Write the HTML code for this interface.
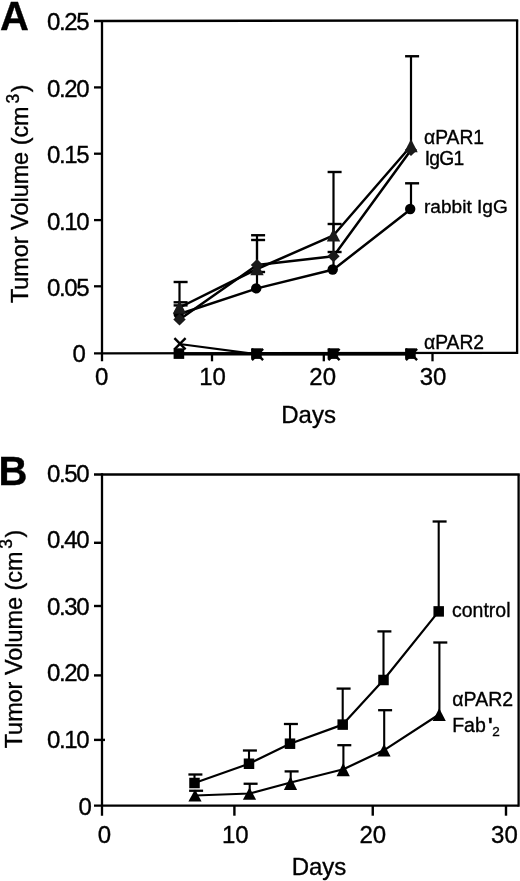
<!DOCTYPE html>
<html><head><meta charset="utf-8"><title>Figure</title>
<style>html,body{margin:0;padding:0;background:#fff}body{width:520px;height:881px;overflow:hidden}svg{display:block}text{font-family:'Liberation Sans', Arial, Helvetica, sans-serif;fill:#000;stroke:#000;stroke-width:0.35px}</style>
</head><body>
<svg width="520" height="881" viewBox="0 0 520 881">
<rect width="520" height="881" fill="#fff"/>
<g id="panelA">
<text x="0" y="30" font-size="40" text-anchor="start" font-weight="bold" >A</text>
<line x1="102" y1="19.9" x2="102" y2="361.3" stroke="#000" stroke-width="2.3"/>
<line x1="94" y1="21" x2="518.2" y2="20.3" stroke="#000" stroke-width="2.3"/>
<line x1="517.1" y1="20.3" x2="517.1" y2="353.90000000000003" stroke="#000" stroke-width="2.3"/>
<line x1="94" y1="353.3" x2="517.1" y2="352.8" stroke="#000" stroke-width="2.3"/>
<text x="88.10000000000001" y="29.6" font-size="24" text-anchor="end" font-weight="normal" letter-spacing="-1.4">0.25</text>
<line x1="94" y1="87.4" x2="102" y2="87.4" stroke="#000" stroke-width="2.3"/>
<text x="88.10000000000001" y="96.8" font-size="24" text-anchor="end" font-weight="normal" letter-spacing="-1.4">0.20</text>
<line x1="94" y1="153.7" x2="102" y2="153.7" stroke="#000" stroke-width="2.3"/>
<text x="88.10000000000001" y="162.8" font-size="24" text-anchor="end" font-weight="normal" letter-spacing="-1.4">0.15</text>
<line x1="94" y1="220.1" x2="102" y2="220.1" stroke="#000" stroke-width="2.3"/>
<text x="88.10000000000001" y="229.8" font-size="24" text-anchor="end" font-weight="normal" letter-spacing="-1.4">0.10</text>
<line x1="94" y1="286.3" x2="102" y2="286.3" stroke="#000" stroke-width="2.3"/>
<text x="88.10000000000001" y="296" font-size="24" text-anchor="end" font-weight="normal" letter-spacing="-1.4">0.05</text>
<text x="84.50000000000001" y="362.1" font-size="24" text-anchor="end" font-weight="normal" letter-spacing="-1.4">0</text>
<text x="101.8" y="385" font-size="24" text-anchor="middle" font-weight="normal" >0</text>
<line x1="212" y1="353.3" x2="212" y2="361.3" stroke="#000" stroke-width="2.3"/>
<text x="212.6" y="385" font-size="24" text-anchor="middle" font-weight="normal" >10</text>
<line x1="323.8" y1="353.3" x2="323.8" y2="361.3" stroke="#000" stroke-width="2.3"/>
<text x="322.7" y="385" font-size="24" text-anchor="middle" font-weight="normal" >20</text>
<line x1="432.5" y1="353.3" x2="432.5" y2="361.3" stroke="#000" stroke-width="2.3"/>
<text x="433.1" y="385" font-size="24" text-anchor="middle" font-weight="normal" >30</text>
<text x="308.6" y="423.3" font-size="24" text-anchor="middle" font-weight="normal" >Days</text>
<text transform="translate(28,303.1) rotate(-90)" font-size="23.4">Tumor Volume (cm<tspan font-size="17.5" dx="2.8" dy="-9.5">3</tspan><tspan dx="1.5" dy="9.5">)</tspan></text>
<line x1="179.5" y1="282" x2="179.5" y2="308" stroke="#000" stroke-width="2.2"/>
<line x1="173.6" y1="282" x2="187.6" y2="282" stroke="#000" stroke-width="2.4000000000000004"/>
<line x1="179.5" y1="302.3" x2="179.5" y2="313" stroke="#000" stroke-width="2.2"/>
<line x1="173.6" y1="302.3" x2="187.6" y2="302.3" stroke="#000" stroke-width="2.4000000000000004"/>
<line x1="179.5" y1="305.4" x2="179.5" y2="319" stroke="#000" stroke-width="2.2"/>
<line x1="173.6" y1="305.4" x2="187.6" y2="305.4" stroke="#000" stroke-width="2.4000000000000004"/>
<line x1="257" y1="235.25" x2="257" y2="270" stroke="#000" stroke-width="2.2"/>
<line x1="251.1" y1="235.25" x2="265.1" y2="235.25" stroke="#000" stroke-width="2.4000000000000004"/>
<line x1="257" y1="240" x2="257" y2="264" stroke="#000" stroke-width="2.2"/>
<line x1="251.1" y1="240" x2="265.1" y2="240" stroke="#000" stroke-width="2.4000000000000004"/>
<line x1="257" y1="272" x2="257" y2="288" stroke="#000" stroke-width="2.2"/>
<line x1="251.1" y1="272" x2="265.1" y2="272" stroke="#000" stroke-width="2.4000000000000004"/>
<line x1="333.5" y1="172" x2="333.5" y2="235" stroke="#000" stroke-width="2.2"/>
<line x1="327.6" y1="172" x2="341.6" y2="172" stroke="#000" stroke-width="2.4000000000000004"/>
<line x1="333.5" y1="224" x2="333.5" y2="256" stroke="#000" stroke-width="2.2"/>
<line x1="327.6" y1="224" x2="341.6" y2="224" stroke="#000" stroke-width="2.4000000000000004"/>
<line x1="333.5" y1="252" x2="333.5" y2="269" stroke="#000" stroke-width="2.2"/>
<line x1="327.6" y1="252" x2="341.6" y2="252" stroke="#000" stroke-width="2.4000000000000004"/>
<line x1="411" y1="56.25" x2="411" y2="146" stroke="#000" stroke-width="2.2"/>
<line x1="405.1" y1="56.25" x2="419.1" y2="56.25" stroke="#000" stroke-width="2.4000000000000004"/>
<line x1="411" y1="183.3" x2="411" y2="209" stroke="#000" stroke-width="2.2"/>
<line x1="405.1" y1="183.3" x2="419.1" y2="183.3" stroke="#000" stroke-width="2.4000000000000004"/>
<polyline points="179.5,354 257,354 333.5,354 411,354" fill="none" stroke="#000" stroke-width="2.8" stroke-linejoin="round"/>
<polyline points="179.5,344 257,354.2 333.5,354.2 411,354.2" fill="none" stroke="#000" stroke-width="2.2" stroke-linejoin="round"/>
<polyline points="179.5,314 257,288.4 333.5,269.5 411,209" fill="none" stroke="#000" stroke-width="2.5" stroke-linejoin="round"/>
<polyline points="179.5,319.5 257,265 333.5,256.25 411,150" fill="none" stroke="#000" stroke-width="2.5" stroke-linejoin="round"/>
<polyline points="179.5,307.5 257,269 333.5,235.3 411,146" fill="none" stroke="#000" stroke-width="2.5" stroke-linejoin="round"/>
<line x1="174.4" y1="338.09999999999997" x2="185.6" y2="349.3" stroke="#000" stroke-width="2.4"/>
<line x1="174.4" y1="349.3" x2="185.6" y2="338.09999999999997" stroke="#000" stroke-width="2.4"/>
<line x1="251.9" y1="348.9" x2="263.1" y2="360.1" stroke="#000" stroke-width="2.4"/>
<line x1="251.9" y1="360.1" x2="263.1" y2="348.9" stroke="#000" stroke-width="2.4"/>
<line x1="328.4" y1="348.9" x2="339.6" y2="360.1" stroke="#000" stroke-width="2.4"/>
<line x1="328.4" y1="360.1" x2="339.6" y2="348.9" stroke="#000" stroke-width="2.4"/>
<line x1="405.9" y1="348.9" x2="417.1" y2="360.1" stroke="#000" stroke-width="2.4"/>
<line x1="405.9" y1="360.1" x2="417.1" y2="348.9" stroke="#000" stroke-width="2.4"/>
<rect x="173.6" y="348.3" width="10.6" height="10.6" fill="#000"/>
<rect x="251.09999999999997" y="348.3" width="10.6" height="10.6" fill="#000"/>
<rect x="327.59999999999997" y="348.3" width="10.6" height="10.6" fill="#000"/>
<rect x="405.09999999999997" y="348.3" width="10.6" height="10.6" fill="#000"/>
<circle cx="178.7" cy="314" r="5.2" fill="#000"/>
<circle cx="256.2" cy="288.4" r="5.2" fill="#000"/>
<circle cx="332.7" cy="269.5" r="5.2" fill="#000"/>
<circle cx="410.2" cy="209" r="5.2" fill="#000"/>
<polygon points="179.5,313.5 185.7,319.5 179.5,325.5 173.3,319.5" fill="#1a1a1a"/>
<polygon points="257,259 263.2,265 257,271 250.8,265" fill="#1a1a1a"/>
<polygon points="333.5,250.25 339.7,256.25 333.5,262.25 327.3,256.25" fill="#1a1a1a"/>
<polygon points="411,144 417.2,150 411,156 404.8,150" fill="#1a1a1a"/>
<polygon points="179.5,300.6 186.2,313.7 172.8,313.7" fill="#1a1a1a"/>
<polygon points="257,262.1 263.7,275.2 250.3,275.2" fill="#1a1a1a"/>
<polygon points="333.5,228.4 340.2,241.5 326.8,241.5" fill="#1a1a1a"/>
<polygon points="411,139.1 417.7,152.2 404.3,152.2" fill="#1a1a1a"/>
<text x="424" y="143.7" font-size="19.3" text-anchor="start" font-weight="normal" >&#945;PAR1</text>
<text x="424.8" y="164.6" font-size="19.3" text-anchor="start" font-weight="normal" letter-spacing="-0.8">IgG1</text>
<text x="424" y="213.4" font-size="19.1" text-anchor="start" font-weight="normal" >rabbit IgG</text>
<text x="424" y="348.7" font-size="19.3" text-anchor="start" font-weight="normal" >&#945;PAR2</text>
</g>
<g id="panelB">
<text x="-1.4" y="485.4" font-size="40" text-anchor="start" font-weight="bold" >B</text>
<line x1="102" y1="473.35" x2="102" y2="815.7" stroke="#000" stroke-width="2.3"/>
<line x1="94" y1="474.5" x2="519.75" y2="474.5" stroke="#000" stroke-width="2.3"/>
<line x1="518.6" y1="474.5" x2="518.6" y2="806.85" stroke="#000" stroke-width="2.3"/>
<line x1="94" y1="805.7" x2="518.6" y2="805.7" stroke="#000" stroke-width="2.3"/>
<text x="88.10000000000001" y="482.4" font-size="24" text-anchor="end" font-weight="normal" letter-spacing="-1.4">0.50</text>
<line x1="94" y1="542.8" x2="102" y2="542.8" stroke="#000" stroke-width="2.4"/>
<text x="88.10000000000001" y="548" font-size="24" text-anchor="end" font-weight="normal" letter-spacing="-1.4">0.40</text>
<line x1="94" y1="606" x2="102" y2="606" stroke="#000" stroke-width="2.4"/>
<text x="88.10000000000001" y="615.4" font-size="24" text-anchor="end" font-weight="normal" letter-spacing="-1.4">0.30</text>
<line x1="94" y1="675.4" x2="102" y2="675.4" stroke="#000" stroke-width="2.4"/>
<text x="88.10000000000001" y="681.2" font-size="24" text-anchor="end" font-weight="normal" letter-spacing="-1.4">0.20</text>
<line x1="94" y1="739.9" x2="105" y2="739.9" stroke="#000" stroke-width="2.4"/>
<text x="88.10000000000001" y="747.9" font-size="24" text-anchor="end" font-weight="normal" letter-spacing="-1.4">0.10</text>
<text x="90.4" y="814.8" font-size="24" text-anchor="end" font-weight="normal" letter-spacing="-1.4">0</text>
<text x="104.4" y="842.6" font-size="24" text-anchor="middle" font-weight="normal" >0</text>
<line x1="234.4" y1="805.7" x2="234.4" y2="815.7" stroke="#000" stroke-width="2.4"/>
<text x="235.3" y="842.6" font-size="24" text-anchor="middle" font-weight="normal" >10</text>
<line x1="372.75" y1="805.7" x2="372.75" y2="815.7" stroke="#000" stroke-width="2.4"/>
<text x="372.8" y="842.6" font-size="24" text-anchor="middle" font-weight="normal" >20</text>
<line x1="506" y1="805.7" x2="506" y2="815.7" stroke="#000" stroke-width="2.4"/>
<text x="504.4" y="842.6" font-size="24" text-anchor="middle" font-weight="normal" >30</text>
<text x="319" y="875.4" font-size="24" text-anchor="middle" font-weight="normal" >Days</text>
<text transform="translate(21.7,748.3) rotate(-90)" font-size="23.4">Tumor Volume (cm<tspan font-size="17.5" dx="2.8" dy="-9.5">3</tspan><tspan dx="1.5" dy="9.5">)</tspan></text>
<line x1="194.5" y1="774.5" x2="194.5" y2="783" stroke="#000" stroke-width="2.1"/>
<line x1="188.4" y1="774.5" x2="202.4" y2="774.5" stroke="#000" stroke-width="2.3000000000000003"/>
<line x1="249" y1="750.5" x2="249" y2="763.75" stroke="#000" stroke-width="2.1"/>
<line x1="242.9" y1="750.5" x2="256.9" y2="750.5" stroke="#000" stroke-width="2.3000000000000003"/>
<line x1="290" y1="724" x2="290" y2="743.7" stroke="#000" stroke-width="2.1"/>
<line x1="283.9" y1="724" x2="297.9" y2="724" stroke="#000" stroke-width="2.3000000000000003"/>
<line x1="342.7" y1="688.6" x2="342.7" y2="724.6" stroke="#000" stroke-width="2.1"/>
<line x1="336.59999999999997" y1="688.6" x2="350.59999999999997" y2="688.6" stroke="#000" stroke-width="2.3000000000000003"/>
<line x1="383.5" y1="631.4" x2="383.5" y2="680" stroke="#000" stroke-width="2.1"/>
<line x1="377.4" y1="631.4" x2="391.4" y2="631.4" stroke="#000" stroke-width="2.3000000000000003"/>
<line x1="438.7" y1="521.5" x2="438.7" y2="611.4" stroke="#000" stroke-width="2.1"/>
<line x1="432.59999999999997" y1="521.5" x2="446.59999999999997" y2="521.5" stroke="#000" stroke-width="2.3000000000000003"/>
<line x1="195.2" y1="790.75" x2="195.2" y2="793" stroke="#000" stroke-width="2.1"/>
<line x1="189.1" y1="790.75" x2="203.1" y2="790.75" stroke="#000" stroke-width="2.3000000000000003"/>
<line x1="249.7" y1="783.75" x2="249.7" y2="791" stroke="#000" stroke-width="2.1"/>
<line x1="243.6" y1="783.75" x2="257.59999999999997" y2="783.75" stroke="#000" stroke-width="2.3000000000000003"/>
<line x1="290.7" y1="771.4" x2="290.7" y2="780" stroke="#000" stroke-width="2.1"/>
<line x1="284.59999999999997" y1="771.4" x2="298.59999999999997" y2="771.4" stroke="#000" stroke-width="2.3000000000000003"/>
<line x1="343.4" y1="745.2" x2="343.4" y2="766.7" stroke="#000" stroke-width="2.1"/>
<line x1="337.29999999999995" y1="745.2" x2="351.29999999999995" y2="745.2" stroke="#000" stroke-width="2.3000000000000003"/>
<line x1="384.2" y1="710.2" x2="384.2" y2="747.6" stroke="#000" stroke-width="2.1"/>
<line x1="378.09999999999997" y1="710.2" x2="392.09999999999997" y2="710.2" stroke="#000" stroke-width="2.3000000000000003"/>
<line x1="439.4" y1="642.5" x2="439.4" y2="711.75" stroke="#000" stroke-width="2.1"/>
<line x1="433.29999999999995" y1="642.5" x2="447.29999999999995" y2="642.5" stroke="#000" stroke-width="2.3000000000000003"/>
<polyline points="194.5,783 249,763.75 290,743.7 342.7,724.6 383.5,680 438.7,611.4" fill="none" stroke="#000" stroke-width="2.2" stroke-linejoin="round"/>
<polyline points="195.2,795.5 249.7,793.5 290.7,782.5 343.4,769.2 384.2,750.1 439.4,714.25" fill="none" stroke="#000" stroke-width="2.2" stroke-linejoin="round"/>
<rect x="189.25" y="777.75" width="10.5" height="10.5" fill="#000"/>
<rect x="243.75" y="758.5" width="10.5" height="10.5" fill="#000"/>
<rect x="284.75" y="738.45" width="10.5" height="10.5" fill="#000"/>
<rect x="337.45" y="719.35" width="10.5" height="10.5" fill="#000"/>
<rect x="378.25" y="674.75" width="10.5" height="10.5" fill="#000"/>
<rect x="433.45" y="606.15" width="10.5" height="10.5" fill="#000"/>
<polygon points="195.0,789.4 201.6,801.45 188.4,801.45" fill="#000"/>
<polygon points="249.5,787.4 256.1,799.7 242.9,799.7" fill="#000"/>
<polygon points="290.5,776.4 297.1,790.0 283.9,790.0" fill="#000"/>
<polygon points="343.2,763.1 349.8,776.2 336.59999999999997,776.2" fill="#000"/>
<polygon points="384.0,744.0 390.6,756.5 377.4,756.5" fill="#000"/>
<polygon points="439.2,708.15 445.8,720.95 432.59999999999997,720.95" fill="#000"/>
<text x="452" y="617" font-size="19.5" text-anchor="start" font-weight="normal" >control</text>
<text x="452.3" y="705.5" font-size="19.5" text-anchor="start" font-weight="normal" >&#945;PAR2</text>
<text x="452.2" y="732.3" font-size="19.5">Fab<tspan dx="2.3" dy="-0.8" font-size="19.5" font-weight="bold">&#39;</tspan><tspan dx="-0.5" dy="4.5" font-size="13.5">2</tspan></text>
</g>
</svg></body></html>
